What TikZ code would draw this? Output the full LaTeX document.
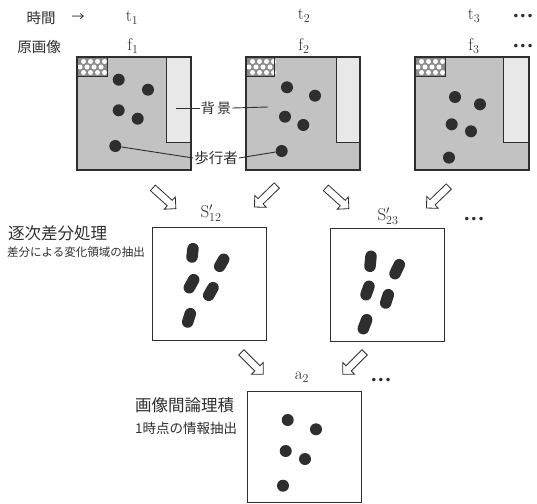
\documentclass[tikz,border=0pt]{standalone}
\usepackage{fontspec}
\newfontfamily\jp{Noto Sans CJK JP}
\newfontfamily\dv{DejaVu Sans}
\usetikzlibrary{shapes.arrows}
\definecolor{framegray}{gray}{0.76}
\definecolor{stripgray}{gray}{0.91}
\definecolor{hatchgray}{gray}{0.55}
\definecolor{ink}{gray}{0.18}
\begin{document}
\begin{tikzpicture}[x=1pt,y=-1pt,
  frame/.style={draw=ink, line width=1.1pt, minimum width=114pt, minimum height=113pt, anchor=north west, inner sep=0pt},
  dot/.style={circle, fill=ink, minimum size=12pt, inner sep=0pt},
  blob/.style={draw=ink, line width=11.5pt, line cap=round},
  barrow/.style={single arrow, draw=ink, fill=white, line width=0.8pt, minimum height=31pt, inner sep=3.3pt, single arrow head extend=4.6pt},
  jlab/.style={text=ink, font=\jp, inner sep=1pt},
  llab/.style={text=ink, inner sep=0pt},
  ell/.style={text=ink, inner sep=0pt, font=\dv\fontsize{12}{12}\selectfont},
  tagline/.style={draw=ink, line width=0.9pt}]
\useasboundingbox (0,0) rectangle (537,503);
% ---------- top frames ----------
\foreach \n/\x/\sx/\hx/\ca/\cb/\cc/\cd/\ce in
  {1/77/89/30/{41.7,22.7}/{71,32.7}/{41.7,53.3}/{60.7,61.7}/{38.3,89},
   2/246/90/28/{41,30.3}/{69,38.7}/{39,59.7}/{57.3,68}/{35.7,94},
   3/415/88.5/30/{40,40}/{65,47.3}/{36.7,67.3}/{56,74.3}/{34,100.6}}{
  \begin{scope}[shift={(\x,57)}]
    \node[frame, fill=framegray] (F\n) at (0,0) {};
    \draw[draw=ink, line width=1pt, fill=stripgray] (\sx,0) rectangle (114,85);
    \fill[hatchgray] (0,0) rectangle (\hx,19.5);
    \foreach \yy/\xs in {4.5/0,10/-3.5,15.5/0}
      \foreach \k in {1,2,3,4}
        \fill[white] ({\k*7-0.5+\xs},\yy) circle (2.5);
    \draw[draw=ink, line width=1pt] (0,0) rectangle (\hx,19.5);
    \node[dot] (F\n d1) at (\ca) {};
    \node[dot] (F\n d2) at (\cb) {};
    \node[dot] (F\n d3) at (\cc) {};
    \node[dot] (F\n d4) at (\cd) {};
    \node[dot] (F\n d5) at (\ce) {};
    \draw[draw=ink, line width=1.1pt] (0,0) rectangle (114,113);
  \end{scope}
}
% ---------- header labels ----------
\node[jlab, font=\jp\fontsize{14.5}{14.5}\selectfont] (tlab) at (41,18) {時間};
\node[jlab, font=\jp\fontsize{13}{13}\selectfont] (tarr) at (78,18) {→};
\node[jlab, font=\jp\fontsize{14.5}{14.5}\selectfont] (olab) at (39,47) {原画像};
\node[llab, font=\fontsize{17}{17}\selectfont] (t1) at (132,18) {t$_1$};
\node[llab, font=\fontsize{17}{17}\selectfont] (t2) at (304,16) {t$_2$};
\node[llab, font=\fontsize{17}{17}\selectfont] (t3) at (474,16) {t$_3$};
\node[ell] (tdots) at (523,17) {•••};
\node[llab, font=\fontsize{17}{17}\selectfont] (f1) at (133,46) {f$_1$};
\node[llab, font=\fontsize{17}{17}\selectfont] (f2) at (304,46) {f$_2$};
\node[llab, font=\fontsize{17}{17}\selectfont] (f3) at (474,46) {f$_3$};
\node[ell] (fdots) at (523,47) {•••};
% ---------- callouts ----------
\node[jlab, font=\jp\fontsize{14}{14}\selectfont, fill=white] (bg) at (216,108) {背\,景};
\coordinate (bgL) at (176,108);
\coordinate (bgR) at (268,107);
\draw[tagline] (bgL) -- (bg.west);
\draw[tagline] (bg.east) -- (bgR);
\node[jlab, font=\jp\fontsize{14.5}{14.5}\selectfont, fill=white] (pw) at (216,158) {歩行者};
\draw[tagline] (F1d5) -- (pw.west);
\draw[tagline] (pw.east) -- (F2d5);
% ---------- arrows row 1 ----------
\node[barrow, rotate=-42] (a1) at (163,197) {};
\node[barrow, rotate=-136] (a2) at (267,195) {};
\node[barrow, rotate=-42] (a3) at (336,197) {};
\node[barrow, rotate=-136] (a4) at (439,196) {};
% ---------- difference frames ----------
\node[llab, font=\fontsize{17}{17}\selectfont] (s12) at (211,213) {S$^{\prime}_{12}$};
\node[llab, font=\fontsize{17}{17}\selectfont] (s23) at (388,216) {S$^{\prime}_{23}$};
\node[ell] (sdots) at (474,220) {•••};
\node[jlab, font=\jp\fontsize{16.5}{16.5}\selectfont, anchor=west] (d1) at (7,233) {逐次差分処理};
\node[jlab, font=\jp\fontsize{11.5}{11.5}\selectfont, anchor=west] (d2) at (6,252) {差分による変化領域の抽出};
\begin{scope}[shift={(152,227)}]
  \node[frame] (S12) at (0,0) {};
  \foreach \p/\q in {{41,21.7}/{40,30},{71.7,32.3}/{67.7,39.3},{41.7,52.7}/{37.3,60.7},{61,60.7}/{56.7,68.3},{38.3,86.7}/{35.7,95}}
    \draw[blob] (\p) -- (\q);
\end{scope}
\begin{scope}[shift={(330,228)}]
  \node[frame] (S23) at (0,0) {};
  \foreach \p/\q in {{41,28.3}/{40,38.3},{69.3,36.7}/{65,45.7},{39,58.3}/{36,66.7},{58.3,66.7}/{55.7,75},{36.7,91.7}/{33.3,100.7}}
    \draw[blob] (\p) -- (\q);
\end{scope}
% ---------- arrows row 2 ----------
\node[barrow, rotate=-45] (a5) at (251,362) {};
\node[barrow, rotate=-135] (a6) at (355,362) {};
\node[llab, font=\fontsize{17}{17}\selectfont] (a2lab) at (302,377) {a$_2$};
\node[ell] (adots) at (381,381) {•••};
\node[jlab, font=\jp\fontsize{16.5}{16.5}\selectfont, anchor=west] (e1) at (134,405) {画像間論理積};
\node[jlab, font=\jp\fontsize{13.5}{13.5}\selectfont, anchor=west] (e2) at (134,428) {1時点の情報抽出};
\begin{scope}[shift={(247,391)}]
  \node[frame, minimum height=111pt] (A2) at (0,0) {};
  \foreach \c in {{40.7,29},{69,38.3},{38.7,60},{58,68},{36,94.7}}
    \node[dot] at (\c) {};
\end{scope}
\end{tikzpicture}
\end{document}
